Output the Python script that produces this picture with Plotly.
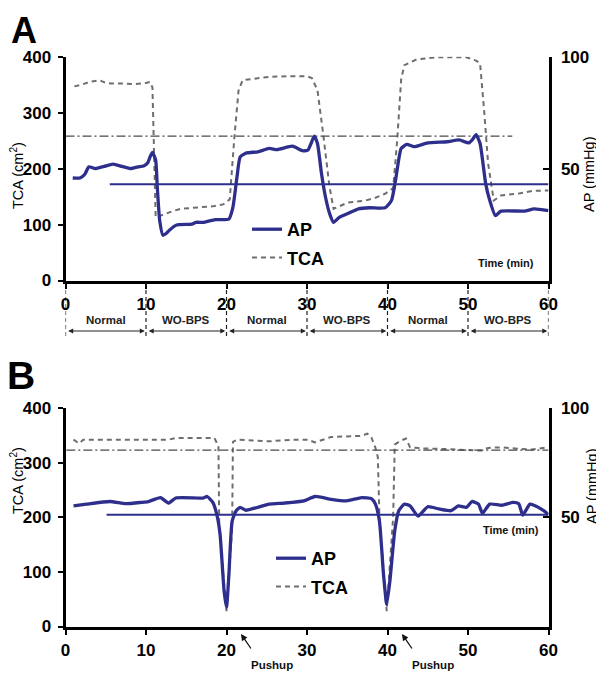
import plotly.graph_objects as go

# ---------------- Data ----------------
# Panel A
a_ap_t = [0.9, 1.8, 2.4, 2.9, 3.7, 4.8, 5.9, 7.0, 8.1, 9.0, 9.7, 10.2, 10.5, 10.8, 11.2, 11.4, 11.7, 12.1,
          12.5, 12.9, 13.8, 15.7, 16.2, 17.2, 18.6, 20.3, 20.8, 21.3, 21.7, 22.5, 23.9, 25.3, 26.3, 28.2,
          29.4, 30.1, 30.5, 30.9, 31.3, 31.8, 32.3, 32.8, 33.3, 34.0, 35.0, 36.4, 37.8, 39.7, 40.5, 41.0,
          41.7, 42.4, 43.3, 45.0, 47.4, 48.9, 50.1, 50.6, 51.0, 51.5, 52.2, 52.7, 53.4, 54.1, 57.0, 58.2, 60.0]
a_ap = [45.8, 45.8, 47.5, 50.8, 50.0, 51.0, 52.0, 51.0, 50.0, 50.8, 51.2, 52.5, 55.2, 57.2, 53.8, 41.8, 26.8, 20.2,
        21.0, 22.5, 24.8, 25.2, 26.0, 26.0, 27.2, 27.5, 32.8, 46.2, 55.2, 57.0, 57.5, 59.0, 58.5, 60.0,
        58.0, 58.2, 61.2, 64.5, 61.2, 47.8, 37.2, 30.0, 26.0, 28.2, 29.8, 32.0, 32.5, 32.5, 35.8, 44.8,
        59.0, 60.8, 59.8, 61.5, 62.0, 62.8, 61.5, 63.2, 65.2, 61.2, 43.2, 35.8, 29.0, 31.0, 31.0, 32.0, 31.2]

a_tca_t = [1.1, 2.0, 3.0, 4.2, 5.0, 5.7, 7.0, 8.5, 10.0, 10.5, 10.8, 11.2, 12.4, 13.3, 14.3, 16.7, 18.5, 19.6,
           20.4, 21.0, 21.5, 22.0, 23.5, 25.3, 27.7, 30.0, 30.6, 31.3, 32.0, 32.8, 33.3, 34.0, 35.0, 37.3,
           38.5, 39.7, 40.7, 41.2, 41.7, 42.1, 43.6, 46.0, 49.8, 51.0, 51.5, 52.0, 52.5, 53.2, 54.1, 56.5,
           58.0, 60.0]
a_tca = [347, 350, 355, 358, 353, 352, 352, 351, 353, 355, 345, 113, 119, 124, 128, 131, 133, 136,
         145, 260, 340, 358, 361, 364, 365, 365, 362, 340, 263, 167, 128, 133, 139, 143,
         148, 155, 165, 250, 360, 385, 395, 399, 399, 393, 388, 304, 209, 143, 152, 156,
         160, 161]

# reference lines, panel A
a_ap_ref = 43.0          # mmHg
a_ap_ref_span = [5.5, 60]
a_tca_ref = 258          # cm2
a_tca_ref_span = [0, 55.5]

# Panel B
b_ap_t = [1.0, 2.6, 5.5, 7.5, 9.4, 10.3, 11.8, 12.8, 13.7, 17.1, 17.6, 18.3, 18.8, 19.2, 19.7, 20.0, 20.3,
          20.7, 21.2, 21.7, 22.4, 25.3, 27.2, 29.6, 31.0, 33.0, 34.9, 36.8, 38.0, 38.5, 39.0, 39.5, 39.9,
          40.3, 40.9, 41.4, 42.1, 42.8, 43.8, 45.0, 46.4, 47.9, 48.8, 49.8, 50.5, 51.3, 51.8, 52.7, 54.2,
          55.6, 56.3, 56.8, 57.7, 58.4, 59.4, 60.0]
b_ap = [55.2, 56.0, 57.2, 56.2, 56.8, 57.2, 59.0, 56.5, 58.8, 58.8, 59.5, 56.8, 51.2, 42.2, 16.2, 8.8, 24.0,
        48.2, 53.0, 54.5, 53.2, 56.0, 56.5, 57.5, 59.5, 58.2, 57.5, 59.0, 58.5, 56.0, 48.2, 24.0, 10.2,
        21.0, 43.8, 53.0, 56.0, 55.2, 50.5, 54.8, 53.8, 53.0, 55.2, 54.5, 57.2, 56.0, 51.8, 56.0, 55.5,
        56.8, 56.2, 51.0, 56.0, 55.2, 53.0, 51.2]

b_tca_t = [1.0, 1.7, 2.2, 6.0, 12.8, 13.7, 18.5, 19.0, 19.1, 20.0, 20.7, 20.8, 21.3, 25.3, 28.2, 30.1, 31.0,
           33.0, 36.8, 37.5, 38.0, 38.5, 38.8, 39.0, 39.9, 40.7, 40.9, 41.6, 42.3, 42.8, 44.5, 46.9, 49.3,
           51.7, 52.5, 54.1, 56.5, 57.9, 60.0]
b_tca = [342, 335, 342, 342, 342, 345, 345, 330, 180, 28, 180, 338, 342, 339, 342, 342, 337,
         347, 349, 353, 346, 327, 310, 200, 28, 200, 333, 340, 344, 328, 326, 325, 324,
         322, 327, 328, 325, 324, 328]

b_ap_ref = 51.2
b_ap_ref_span = [5.1, 60]
b_tca_ref = 323
b_tca_ref_span = [0.1, 60]

# Axis / label texts
x_ticks = [0, 10, 20, 30, 40, 50, 60]
tca_ticks = [0, 100, 200, 300, 400]
ap_ticks = [50, 100]
phase_bounds = [0, 10, 20, 30, 40, 50, 60]
phase_labels = ["Normal", "WO-BPS", "Normal", "WO-BPS", "Normal", "WO-BPS"]
pushup_times = [21.8, 41.8]

# ---------------- Styling ----------------
OFF = 8                     # default page margin of the html body
W, H = 604 - OFF, 679 - OFF
FONT = "Liberation Sans"
AP_COLOR = "#2e2e8c"
TCA_COLOR = "#6e6e6e"
REF_COLOR = "#4a4a4a"

def px(xp):
    return (xp - OFF) / W

def py(yp):
    return 1 - (yp - OFF) / H

xdom = [px(65.5), px(548.5)]
a_dom = [py(280.5), py(56.7)]
b_dom = [py(626.5), py(408)]

fig = go.Figure()

tca_line = dict(color=TCA_COLOR, width=2, dash="5px,4px")
ap_line = dict(color=AP_COLOR, width=3.3)

# Panel A
fig.add_trace(go.Scatter(x=a_tca_t, y=a_tca, mode="lines", line=tca_line, name="TCA",
                         xaxis="x", yaxis="y", legend="legend", legendgroup="tca", legendrank=2))
fig.add_trace(go.Scatter(x=a_tca_ref_span, y=[a_tca_ref, a_tca_ref], mode="lines",
                         line=dict(color=REF_COLOR, width=1.2, dash="9px,3px,2px,3px"),
                         xaxis="x", yaxis="y", showlegend=False))
fig.add_trace(go.Scatter(x=a_ap_ref_span, y=[a_ap_ref, a_ap_ref], mode="lines",
                         line=dict(color=AP_COLOR, width=2), xaxis="x", yaxis="y2", showlegend=False))
fig.add_trace(go.Scatter(x=a_ap_t, y=a_ap, mode="lines", line=ap_line, name="AP",
                         line_shape="spline", line_smoothing=0.5,
                         xaxis="x", yaxis="y2", legend="legend", legendgroup="ap", legendrank=1))

# Panel B
fig.add_trace(go.Scatter(x=b_tca_t, y=b_tca, mode="lines", line=tca_line, name="TCA",
                         xaxis="x2", yaxis="y3", legend="legend2", legendgroup="tca", legendrank=2))
fig.add_trace(go.Scatter(x=b_tca_ref_span, y=[b_tca_ref, b_tca_ref], mode="lines",
                         line=dict(color=REF_COLOR, width=1.2, dash="9px,3px,2px,3px"),
                         xaxis="x2", yaxis="y3", showlegend=False))
fig.add_trace(go.Scatter(x=b_ap_ref_span, y=[b_ap_ref, b_ap_ref], mode="lines",
                         line=dict(color=AP_COLOR, width=2), xaxis="x2", yaxis="y4", showlegend=False))
fig.add_trace(go.Scatter(x=b_ap_t, y=b_ap, mode="lines", line=ap_line, name="AP",
                         line_shape="spline", line_smoothing=0.5,
                         xaxis="x2", yaxis="y4", legend="legend2", legendgroup="ap", legendrank=1))

tickfont = dict(family=FONT, size=17, color="black", weight="bold")

def xax(anchor):
    return dict(domain=xdom, anchor=anchor, range=[0, 60], tickvals=x_ticks, ticktext=[str(v) for v in x_ticks],
                showline=True, linewidth=3, linecolor="black", ticks="outside", ticklen=5, tickwidth=2,
                tickcolor="black", showgrid=False, zeroline=False, tickfont=tickfont, ticklabelstandoff=1,
                automargin=False, fixedrange=True)

def yax_left(dom, anchor):
    return dict(domain=dom, anchor=anchor, range=[0, 400], tickvals=tca_ticks,
                showline=True, linewidth=3, linecolor="black", ticks="outside", ticklen=5, tickwidth=2,
                tickcolor="black", showgrid=False, zeroline=False, tickfont=tickfont, ticklabelstandoff=3,
                automargin=False)

def yax_right(over, anchor):
    return dict(overlaying=over, anchor=anchor, side="right", range=[0, 100], tickvals=ap_ticks,
                showline=True, linewidth=3, linecolor="black", ticks="inside", ticklen=6, tickwidth=2,
                tickcolor="black", showgrid=False, zeroline=False, tickfont=tickfont, ticklabelstandoff=6,
                automargin=False)

legfont = dict(family=FONT, size=18, color="black", weight="bold")

fig.update_layout(
    width=W, height=H, margin=dict(l=0, r=0, t=0, b=0, autoexpand=False),
    paper_bgcolor="white", plot_bgcolor="white",
    xaxis=xax("y"), yaxis=yax_left(a_dom, "x"), yaxis2=yax_right("y", "x"),
    xaxis2=xax("y3"), yaxis3=yax_left(b_dom, "x2"), yaxis4=yax_right("y3", "x2"),
    legend=dict(x=px(247), y=py(211), xanchor="left", yanchor="top", font=legfont,
                bgcolor="rgba(0,0,0,0)", tracegroupgap=2, itemwidth=30, borderwidth=0),
    legend2=dict(x=px(271), y=py(540), xanchor="left", yanchor="top", font=legfont,
                 bgcolor="rgba(0,0,0,0)", tracegroupgap=2, itemwidth=30, borderwidth=0),
    showlegend=True,
)

ann = []
shapes = []

def label(text, x, y, font, xref="paper", **kw):
    d = dict(text=text, x=x, y=y, xref=xref, yref="paper", showarrow=False, font=font,
             xanchor="center", yanchor="middle")
    d.update(kw)
    ann.append(d)

# Panel letters
label("A", px(24), py(8.3), dict(family=FONT, size=36, color="black", weight="bold"), yanchor="top")
label("B", px(21), py(375), dict(family=FONT, size=39, color="black", weight="bold"))
# Axis titles
titlefont = dict(family=FONT, size=14.5, color="black")
label("TCA (cm<sup>2</sup>)", px(17), py(176), titlefont, textangle=-90)
label("AP (mmHg)", px(589), py(175), titlefont, textangle=-90)
label("TCA (cm<sup>2</sup>)", px(17), py(481), titlefont, textangle=-90)
label("AP (mmHg)", px(592), py(487), titlefont, textangle=-90)
# Time (min)
smallfont = dict(family=FONT, size=11, color="#111", weight="bold")
label("Time (min)", px(506), py(263), smallfont)
label("Time (min)", px(511), py(530), smallfont)

# Phase markers below panel A
for b in phase_bounds:
    shapes.append(dict(type="line", xref="x", yref="paper", x0=b, x1=b, y0=py(283), y1=py(337),
                       line=dict(color="#222", width=1.2, dash="4px,3px")))
for i, lab in enumerate(phase_labels):
    s, e = phase_bounds[i], phase_bounds[i + 1]
    label(lab, (s + e) / 2, py(320), dict(family=FONT, size=11.5, color="#222", weight="bold"), xref="x")
    ann.append(dict(text="", x=e - 0.15, y=py(331), xref="x", yref="paper",
                    ax=s + 0.15, axref="x", ay=0, ayref="pixel", showarrow=True,
                    arrowhead=2, arrowside="end+start", arrowsize=0.9, arrowwidth=1.1, arrowcolor="#222"))

# Pushup annotations in panel B
for t in pushup_times:
    ann.append(dict(text="", x=t, y=py(634), xref="x2", yref="paper", ax=11, ay=16,
                    axref="pixel", ayref="pixel", showarrow=True, arrowhead=2, arrowsize=1,
                    arrowwidth=1.3, arrowcolor="#111"))
    label("Pushup", t + 3.9, py(665), dict(family=FONT, size=11.5, color="#111", weight="bold"), xref="x2")

fig.update_layout(annotations=ann, shapes=shapes)

fig.write_html("out.html")
